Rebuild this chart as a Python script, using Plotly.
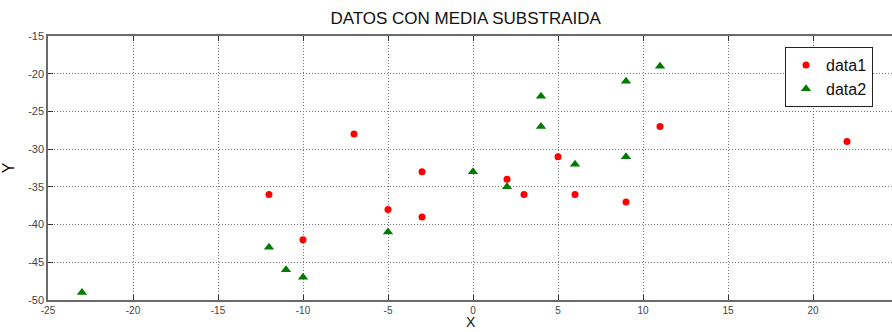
import plotly.graph_objects as go

# data1: red circles
x1 = [-12, -10, -7, -5, -3, -3, 2, 3, 5, 6, 9, 11, 22]
y1 = [-36, -42, -28, -38, -33, -39, -34, -36, -31, -36, -37, -27, -29]

# data2: green triangles
x2 = [-23, -12, -11, -10, -5, 0, 2, 4, 4, 6, 9, 9, 11]
y2 = [-49, -43, -46, -47, -41, -33, -35, -23, -27, -32, -21, -31, -19]

x_ticks = [-25, -20, -15, -10, -5, 0, 5, 10, 15, 20]
y_ticks = [-50, -45, -40, -35, -30, -25, -20, -15]

FONT = "Arial, Liberation Sans, sans-serif"
AXIS_COLOR = "#6a6a6a"
GRID = dict(showgrid=True, gridcolor="#777777", griddash="1px,2px", gridwidth=1)

fig = go.Figure()
fig.add_trace(go.Scatter(
    x=x1, y=y1, mode="markers", name="data1",
    marker=dict(symbol="circle", size=7, color="#ff0000"),
))
fig.add_trace(go.Scatter(
    x=x2, y=y2, mode="markers", name="data2",
    marker=dict(symbol="triangle-up", size=9, color="#007a00"),
))

fig.update_layout(
    width=892, height=332,
    margin=dict(l=48, r=0, t=36, b=32),
    paper_bgcolor="white", plot_bgcolor="white",
    font=dict(family=FONT, color="#222"),
    title=dict(text="DATOS CON MEDIA SUBSTRAIDA", x=0.522, xanchor="center",
               y=0.945, yanchor="middle", font=dict(size=17, color="#111")),
    legend=dict(x=0.9775, xanchor="right", y=0.958, yanchor="top",
                bordercolor="#222", borderwidth=1, bgcolor="white",
                font=dict(size=16, color="#111"), tracegroupgap=0,
                itemwidth=30),
    showlegend=True,
    # x-axis label sitting at the bottom edge, below the tick labels
    annotations=[dict(text="X", xref="paper", yref="paper", x=0.501, y=-0.119,
                      xanchor="center", yanchor="bottom", showarrow=False,
                      borderpad=0, font=dict(size=14, color="#111"))],
)

fig.update_xaxes(
    range=[-25, 24.647], tickvals=x_ticks, ticktext=[str(v) for v in x_ticks],
    showline=True, linecolor=AXIS_COLOR, linewidth=1.5, mirror="ticks",
    ticks="inside", ticklen=5, tickcolor="#333", automargin=False,
    zeroline=False, tickfont=dict(size=10, color="#444"),
    **GRID,
)
fig.update_yaxes(
    range=[-50, -15], tickvals=y_ticks, ticktext=[str(v) for v in y_ticks],
    showline=True, linecolor=AXIS_COLOR, linewidth=1.5, mirror=False,
    ticks="inside", ticklen=5, tickcolor="#333", automargin=False,
    zeroline=False, tickfont=dict(size=11, color="#444"),
    title=dict(text="Y", font=dict(size=16, color="#111"), standoff=10),
    **GRID,
)

fig.write_html("out.html")
